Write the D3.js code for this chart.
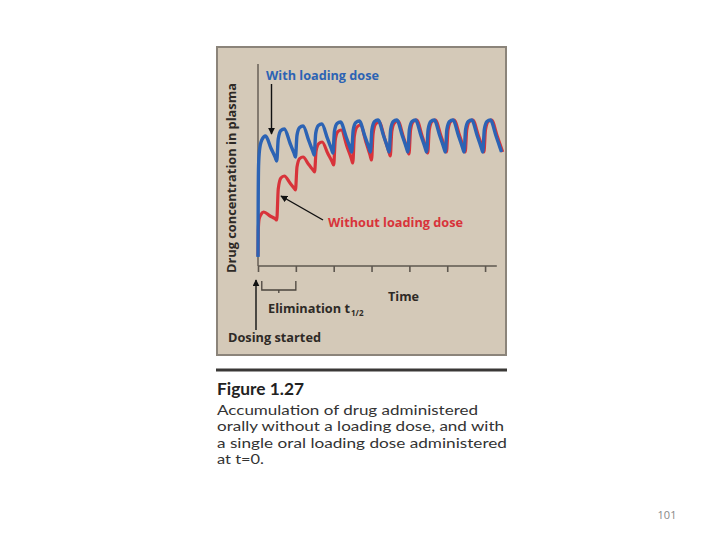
<!DOCTYPE html>
<html>
<head>
<meta charset="utf-8">
<script src="https://cdn.jsdelivr.net/npm/d3@7"></script>
<style>
  html, body { margin: 0; padding: 0; background: #ffffff; }
  svg { display: block; }
</style>
</head>
<body>
<svg id="chart" width="720" height="540"></svg>
<script>
// ---------- data ----------
// time in elimination half-lives, concentration in arbitrary units (0-100)
const xTicks = [0, 1, 2, 3, 4, 5, 6];

const blueTime = [
  0, 0.005, 0.015, 0.04, 0.1, 0.2, 0.34, 0.455,
  0.495, 0.535, 0.605, 0.695, 0.845, 0.95,
  0.99, 1.03, 1.1, 1.19, 1.34, 1.445,
  1.485, 1.525, 1.595, 1.685, 1.835, 1.94,
  1.98, 2.02, 2.09, 2.18, 2.33, 2.435,
  2.475, 2.515, 2.585, 2.675, 2.825, 2.93,
  2.97, 3.01, 3.08, 3.17, 3.32, 3.425,
  3.465, 3.505, 3.575, 3.665, 3.815, 3.92,
  3.96, 4.0, 4.07, 4.16, 4.31, 4.415,
  4.455, 4.495, 4.565, 4.655, 4.805, 4.91,
  4.95, 4.99, 5.06, 5.15, 5.3, 5.405,
  5.445, 5.485, 5.555, 5.645, 5.795, 5.9,
  5.94, 5.98, 6.05, 6.14, 6.29, 6.395,
  6.435
];
const blueConc = [
  4.5, 30, 50, 58, 63, 65, 59, 54.3,
  52.5, 63.5, 67.7, 68.5, 61.5, 56.5,
  54.5, 65.3, 69.2, 70, 62.8, 57.5,
  55.5, 66.3, 70.2, 71, 63.8, 58.5,
  56.5, 67.3, 71.2, 72, 64.5, 59.1,
  57, 67.9, 71.7, 72.5, 64.8, 59.2,
  57, 68.2, 72.2, 73, 65, 59.2,
  57, 68.2, 72.2, 73, 65, 59.2,
  57, 68.2, 72.2, 73, 65, 59.2,
  57, 68.2, 72.2, 73, 65, 59.2,
  57, 68.2, 72.2, 73, 65, 59.2,
  57, 68.2, 72.2, 73, 65, 59.2,
  57, 68.2, 72.2, 73, 65, 59.2,
  57
];

const redTime = [
  0, 0.008, 0.03, 0.08, 0.15, 0.32, 0.455,
  0.495, 0.535, 0.605, 0.695, 0.845, 0.95,
  0.99, 1.03, 1.1, 1.19, 1.34, 1.455,
  1.495, 1.535, 1.605, 1.695, 1.845, 1.96,
  2.0, 2.04, 2.11, 2.2, 2.35, 2.465,
  2.505, 2.545, 2.615, 2.705, 2.855, 2.96,
  3.0, 3.04, 3.11, 3.2, 3.35, 3.455,
  3.495, 3.535, 3.605, 3.695, 3.845, 3.95,
  3.99, 4.03, 4.1, 4.19, 4.34, 4.445,
  4.485, 4.525, 4.595, 4.685, 4.835, 4.94,
  4.98, 5.02, 5.09, 5.18, 5.33, 5.435,
  5.475, 5.515, 5.585, 5.675, 5.825, 5.93,
  5.97, 6.01, 6.08, 6.17, 6.32, 6.425,
  6.465
];
const redConc = [
  5, 18, 23.5, 25.8, 27, 25, 23.6,
  23, 38.5, 44, 45, 41.5, 39,
  38, 49.5, 53.7, 54.5, 50.7, 48,
  47, 57.5, 61.2, 62, 56.2, 52.1,
  50.5, 62.8, 67.2, 68, 59.8, 53.8,
  51.5, 64.8, 69.5, 70.5, 61.8, 55.5,
  53, 66, 71.1, 72, 63.5, 57.4,
  55, 67.3, 71.6, 72.5, 64.3, 58.3,
  56, 67.9, 72.2, 73, 64.8, 58.8,
  56.5, 68, 72.2, 73, 65, 59.2,
  57, 68, 72.2, 73, 65, 59.2,
  57, 68, 72.2, 73, 65, 59.2,
  57, 68, 72.2, 73, 65, 59.2,
  57
];

const seriesLabels = ["With loading dose", "Without loading dose"];
const captionTitle = "Figure 1.27";
const captionLines = [
  "Accumulation of drug administered",
  "orally without a loading dose, and with",
  "a single oral loading dose administered",
  "at t=0."
];
const pageNumber = "101";

// ---------- drawing ----------
const svg = d3.select("#chart");
const BLUE = "#2c63b4", RED = "#d8333a", INK = "#2e2a26";
const FONT = "'Open Sans', 'DejaVu Sans', sans-serif";
const CAPFONT = "Lato, 'Open Sans', sans-serif";

// panel
svg.append("rect").attr("x", 217).attr("y", 47).attr("width", 289).attr("height", 308)
  .attr("fill", "#d4c9b8").attr("stroke", "#8b847a").attr("stroke-width", 2);

const x = d3.scaleLinear().domain([0, 6.5]).range([258, 504]);
const y = d3.scaleLinear().domain([0, 100]).range([266, 66]);

// y axis line
svg.append("line").attr("x1", x(0)).attr("x2", x(0)).attr("y1", 64).attr("y2", y(0))
  .attr("stroke", "#6e665c").attr("stroke-width", 1.6);

// x axis
const xAxis = d3.axisBottom(x).tickValues(xTicks).tickSize(6).tickFormat("");
const gx = svg.append("g").attr("transform", `translate(0,${y(0)})`).call(xAxis);
gx.select(".domain").attr("d", `M${x(0)},0H${x(6.31)}`).attr("stroke", "#5e574f").attr("stroke-width", 1.6);
gx.selectAll(".tick line").attr("stroke", "#5e574f").attr("stroke-width", 1.6);

// curves
const line = d3.line().x(d => x(d[0])).y(d => y(d[1])).curve(d3.curveMonotoneX);
const redData = redTime.map((t, i) => [t, redConc[i]]);
const blueData = blueTime.map((t, i) => [t, blueConc[i]]);
svg.append("path").datum(redData).attr("d", line)
  .attr("fill", "none").attr("stroke", RED).attr("stroke-width", 3.2).attr("stroke-linejoin", "round");
svg.append("path").datum(blueData).attr("d", line)
  .attr("fill", "none").attr("stroke", BLUE).attr("stroke-width", 3.4).attr("stroke-linejoin", "round");

// arrow marker
svg.append("defs").append("marker").attr("id", "ah").attr("viewBox", "0 0 10 10")
  .attr("refX", 9).attr("refY", 5).attr("markerWidth", 7).attr("markerHeight", 7)
  .attr("orient", "auto").attr("markerUnits", "userSpaceOnUse")
  .append("path").attr("d", "M0,0L10,5L0,10z").attr("fill", "#111");

// labels
svg.append("text").attr("x", 266).attr("y", 80).text(seriesLabels[0])
  .attr("font-family", FONT).attr("font-weight", "bold").attr("font-size", 12)
  .attr("fill", BLUE).attr("textLength", 113).attr("lengthAdjust", "spacingAndGlyphs");
svg.append("line").attr("x1", 271.5).attr("y1", 84).attr("x2", 271.5).attr("y2", 134)
  .attr("stroke", "#111").attr("stroke-width", 1.4).attr("marker-end", "url(#ah)");

svg.append("text").attr("x", 328).attr("y", 227).text(seriesLabels[1])
  .attr("font-family", FONT).attr("font-weight", "bold").attr("font-size", 12)
  .attr("fill", RED).attr("textLength", 135).attr("lengthAdjust", "spacingAndGlyphs");
svg.append("line").attr("x1", 323).attr("y1", 220).attr("x2", 281).attr("y2", 196)
  .attr("stroke", "#111").attr("stroke-width", 1.4).attr("marker-end", "url(#ah)");

// y axis title
svg.append("text").attr("transform", "translate(236,178) rotate(-90)")
  .attr("text-anchor", "middle").text("Drug concentration in plasma")
  .attr("font-family", FONT).attr("font-weight", "bold").attr("font-size", 11.5)
  .attr("fill", INK).attr("textLength", 190).attr("lengthAdjust", "spacingAndGlyphs");

// Time label
svg.append("text").attr("x", 388).attr("y", 301).text("Time")
  .attr("font-family", FONT).attr("font-weight", "bold").attr("font-size", 12)
  .attr("fill", INK).attr("textLength", 31).attr("lengthAdjust", "spacingAndGlyphs");

// half-life bracket
svg.append("path").attr("d", `M${x(0.1)},281V290H${x(1)}V281M${(x(0.1)+x(1))/2},290V293`)
  .attr("fill", "none").attr("stroke", "#4a443d").attr("stroke-width", 1.3);

const elim = svg.append("text").attr("x", 268).attr("y", 313)
  .attr("font-family", FONT).attr("font-weight", "bold").attr("font-size", 12).attr("fill", INK);
elim.append("tspan").text("Elimination t").attr("textLength", 82).attr("lengthAdjust", "spacingAndGlyphs");
elim.append("tspan").text("1/2").attr("font-size", 8).attr("dx", 1).attr("dy", 3);

// dosing started arrow + label
svg.append("line").attr("x1", 256).attr("y1", 330).attr("x2", 256).attr("y2", 280)
  .attr("stroke", "#111").attr("stroke-width", 1.4).attr("marker-end", "url(#ah)");
svg.append("text").attr("x", 228).attr("y", 342).text("Dosing started")
  .attr("font-family", FONT).attr("font-weight", "bold").attr("font-size", 12)
  .attr("fill", INK).attr("textLength", 93).attr("lengthAdjust", "spacingAndGlyphs");

// caption
svg.append("rect").attr("x", 216).attr("y", 368.5).attr("width", 291).attr("height", 3).attr("fill", "#3a3836");
svg.append("text").attr("x", 217).attr("y", 395).text(captionTitle)
  .attr("font-family", CAPFONT).attr("font-weight", "bold").attr("font-size", 17)
  .attr("fill", "#222").attr("textLength", 87).attr("lengthAdjust", "spacingAndGlyphs");
const capW = [261, 287, 290, 47];
captionLines.forEach((s, i) => {
  svg.append("text").attr("x", 217).attr("y", 415 + i * 16.3).text(s)
    .attr("font-family", CAPFONT).attr("font-size", 13.5).attr("fill", "#333")
    .attr("textLength", capW[i]).attr("lengthAdjust", "spacingAndGlyphs");
});

svg.append("text").attr("x", 667).attr("y", 519).attr("text-anchor", "middle").text(pageNumber)
  .attr("font-family", FONT).attr("font-size", 11).attr("fill", "#888");
</script>
</body>
</html>
